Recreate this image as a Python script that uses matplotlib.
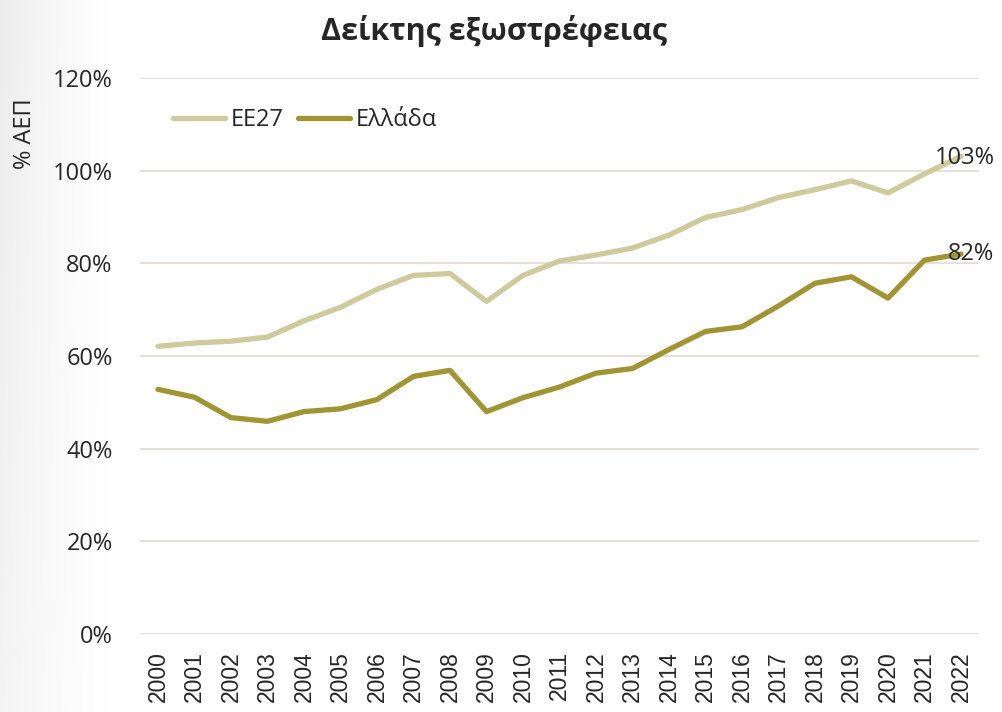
import matplotlib
matplotlib.use("Agg")
import matplotlib.pyplot as plt
import numpy as np
from matplotlib.ticker import FuncFormatter

years = [str(y) for y in range(2000, 2023)]
ee27 = [62.1, 62.8, 63.2, 64.1, 67.6, 70.5, 74.4, 77.4, 77.8, 71.8, 77.4,
        80.5, 81.8, 83.3, 86.1, 89.9, 91.6, 94.2, 95.9, 97.8, 95.2, 99.3, 103.1]
greece = [52.8, 51.1, 46.7, 45.9, 48.0, 48.6, 50.6, 55.6, 56.9, 48.0, 51.0,
          53.3, 56.3, 57.3, 61.4, 65.3, 66.3, 70.8, 75.7, 77.1, 72.5, 80.7, 82.0]
series_names = ["ΕΕ27", "Ελλάδα"]
end_labels = ["103%", "82%"]
yticks = [0, 20, 40, 60, 80, 100, 120]

plt.rcParams['font.family'] = ['Open Sans', 'DejaVu Sans']
txt = '#262626'

fig = plt.figure(figsize=(10.03, 7.12), dpi=100)

# subtle grey gradient on the left edge of the background
bg = fig.add_axes([0, 0, 1, 1], zorder=-10)
W, H = 1003, 712
XX, YY = np.meshgrid(np.linspace(0, W, W), np.linspace(0, H, H))
vert = 1.0 - 0.4 * (YY / H)
shade = 0.075 * np.clip(1 - XX / 110.0, 0, 1) ** 1.3 * vert
img = np.clip(1 - shade, 0, 1)
bg.imshow(np.dstack([img, img, img]), extent=[0, 1, 0, 1], aspect='auto')
bg.axis('off')

ax = fig.add_axes([0.1393, 0.1096, 0.837, 0.7808])
ax.patch.set_alpha(0)

x = list(range(len(years)))
c1, c2 = '#cfca9b', '#a09433'
ax.plot(x, ee27, color=c1, lw=3.8, solid_capstyle='round', solid_joinstyle='round', label=series_names[0])
ax.plot(x, greece, color=c2, lw=3.8, solid_capstyle='round', solid_joinstyle='round', label=series_names[1])

ax.set_xlim(-0.5, len(years) - 0.5)
ax.set_ylim(0, 120)
ax.set_yticks(yticks)
ax.yaxis.set_major_formatter(FuncFormatter(lambda v, p: f"{v:.0f}%"))
ax.set_xticks(x)
ax.set_xticklabels(years, rotation=90, family=['Liberation Sans', 'DejaVu Sans'], fontsize=16.5)
ax.tick_params(axis='both', length=0, colors=txt)
ax.tick_params(axis='y', pad=19.5, labelsize=17)
ax.tick_params(axis='x', pad=12.5)
ax.grid(axis='y', color='#e5e1d6', lw=1.5)
ax.set_axisbelow(True)
for s in ax.spines.values():
    s.set_visible(False)

ax.annotate(end_labels[0], (x[-1], ee27[-1]), xytext=(-19, -1.5), textcoords='offset points',
            fontsize=17, color=txt, va='center', ha='left')
ax.annotate(end_labels[1], (x[-1], greece[-1]), xytext=(-9.5, 0), textcoords='offset points',
            fontsize=17, color=txt, va='center', ha='left')

fig.text(0.493, 0.957, "Δείκτης εξωστρέφειας", ha='center', va='center',
         fontsize=22, fontweight='bold', color=txt)
fig.text(0.025, 0.813, "% ΑΕΠ", rotation=90, ha='center', va='center', fontsize=17, color=txt)

leg = ax.legend(loc='upper left', bbox_to_anchor=(0.02, 0.975), ncol=2, frameon=False,
                fontsize=17, handlelength=2.2, handletextpad=0.25, columnspacing=0.6,
                labelcolor=txt, borderaxespad=0.3)

fig.savefig("out.png", dpi=100, facecolor='white')
